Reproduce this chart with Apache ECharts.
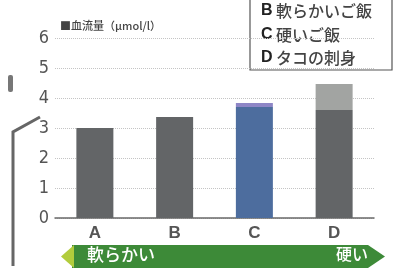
<!DOCTYPE html>
<html>
<head>
<meta charset="utf-8">
<script src="https://cdn.jsdelivr.net/npm/echarts@6/dist/echarts.min.js"></script>
<style>
  html, body { margin: 0; padding: 0; background: #fff; }
  #chart { width: 398px; height: 270px; }
</style>
</head>
<body>
<div id="chart"></div>
<script>
const categories = ["A", "B", "C", "D"];
const baseValues = [3.0, 3.37, 3.7, 3.6];
const topValues = [0, 0, 0.13, 0.87];
const yTicks = [0, 1, 2, 3, 4, 5, 6];
const legendKeys = ["B", "C", "D"];
const legendNames = ["軟らかいご飯", "硬いご飯", "タコの刺身"];

const baseColors = ["#636567", "#636567", "#4d6d9e", "#636567"];
const topColors = ["#a4a6a4", "#a4a6a4", "#8e86c6", "#a2a4a2"];

const chart = echarts.init(document.getElementById("chart"));

const option = {
  animation: false,
  backgroundColor: "#fff",
  grid: { left: 55, right: 24, top: 38, bottom: 52 },
  xAxis: {
    type: "category",
    data: categories,
    axisLine: { lineStyle: { color: "#6a6a6a", width: 1.5 } },
    axisTick: { show: false },
    axisLabel: {
      color: "#555",
      fontSize: 17,
      fontWeight: "bold",
      fontFamily: "Liberation Sans, Arial, sans-serif",
      margin: 7,
    },
  },
  yAxis: {
    type: "value",
    min: yTicks[0],
    max: yTicks[yTicks.length - 1],
    interval: 1,
    axisLine: { show: false },
    axisTick: { show: false },
    axisLabel: {
      color: "#555",
      fontSize: 18,
      fontFamily: "Liberation Sans Narrow, DejaVu Sans Condensed, sans-serif",
      margin: 6,
    },
    splitLine: {
      show: true,
      lineStyle: { color: "#c4c4c4", type: "dotted", width: 1 },
    },
  },
  series: [
    {
      type: "bar",
      stack: "total",
      barWidth: 37,
      data: baseValues.map((v, i) => ({ value: v, itemStyle: { color: baseColors[i] } })),
    },
    {
      type: "bar",
      stack: "total",
      barWidth: 37,
      data: topValues.map((v, i) => ({ value: v, itemStyle: { color: topColors[i] } })),
    },
  ],
  graphic: [
    // 縦軸タイトル
    {
      type: "text",
      left: 60,
      top: 20,
      style: {
        text: "■血流量（μmol/l）",
        fill: "#444",
        font: "500 11px 'Noto Sans CJK JP', sans-serif",
      },
    },
    // 凡例の枠
    {
      type: "rect",
      shape: { x: 250, y: -2, width: 142, height: 72 },
      style: { fill: "#fff", stroke: "#555", lineWidth: 1.2 },
    },
    ...legendKeys.map((k, i) => ({
      type: "text",
      left: 261,
      top: 3 + i * 23.5,
      style: {
        text: "{k|" + k + "} {n|" + legendNames[i] + "}",
        rich: {
          k: { fill: "#222", font: "bold 16px 'Liberation Sans', Arial, sans-serif" },
          n: { fill: "#444", font: "500 16px 'Noto Sans CJK JP', sans-serif" },
        },
      },
    })),
    // 左の括弧
    {
      type: "polyline",
      shape: { points: [[40, 117], [13, 132], [13, 266]] },
      style: { stroke: "#666", lineWidth: 3, fill: null },
    },
    {
      type: "rect",
      shape: { x: 8, y: 75, width: 5, height: 17, r: 2 },
      style: { fill: "#777" },
    },
    // 下の矢印
    {
      type: "polygon",
      shape: { points: [[72, 245], [368, 245], [385, 256.5], [368, 268], [72, 268]] },
      style: { fill: "#3d8a38" },
    },
    {
      type: "polygon",
      shape: { points: [[61, 256.5], [74, 245], [74, 268]] },
      style: { fill: "#b2cc3c" },
    },
    {
      type: "text",
      left: 87,
      top: 246,
      style: {
        text: "軟らかい",
        fill: "#fff",
        font: "500 17px 'Noto Sans CJK JP', sans-serif",
      },
    },
    {
      type: "text",
      left: 336,
      top: 246,
      style: {
        text: "硬い",
        fill: "#fff",
        font: "500 16px 'Noto Sans CJK JP', sans-serif",
      },
    },
  ],
};

chart.setOption(option);
</script>
</body>
</html>
